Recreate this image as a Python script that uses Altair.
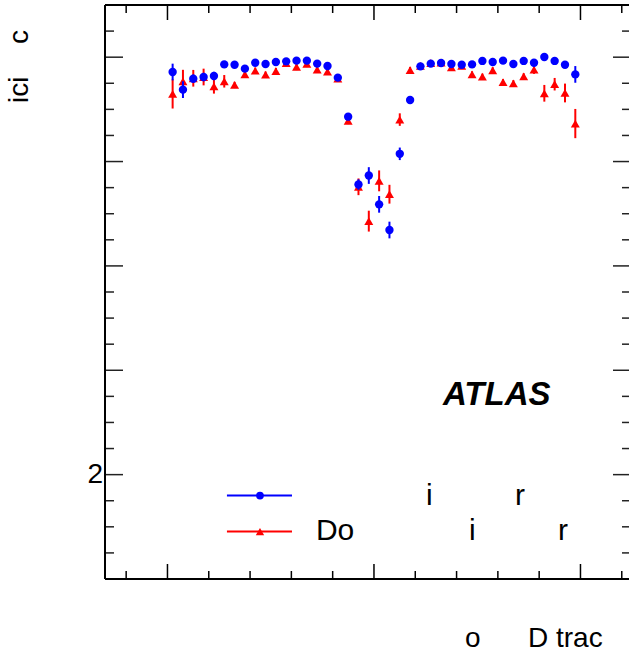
import altair as alt
import pandas as pd

# ---- data ----
eta = [round(-1.95 + 0.1 * i, 2) for i in range(40)]
blue_eff = [0.9858, 0.9689, 0.9794, 0.9810, 0.9820, 0.9931, 0.9928, 0.9890, 0.9947, 0.9935,
            0.9954, 0.9960, 0.9967, 0.9967, 0.9938, 0.9916, 0.9804, 0.9430, 0.8780, 0.8866,
            0.8590, 0.8344, 0.9074, 0.9590, 0.9912, 0.9938, 0.9944, 0.9935, 0.9928, 0.9931,
            0.9964, 0.9954, 0.9967, 0.9935, 0.9964, 0.9947, 1.0002, 0.9964, 0.9928, 0.9835]
blue_err = [0.008, 0.008, 0.004, 0.004, 0.004, 0.002, 0.002, 0.002, 0.002, 0.002,
            0.002, 0.002, 0.002, 0.002, 0.002, 0.002, 0.002, 0.003, 0.005, 0.008,
            0.008, 0.008, 0.006, 0.003, 0.002, 0.002, 0.002, 0.002, 0.002, 0.002,
            0.002, 0.002, 0.002, 0.002, 0.002, 0.002, 0.002, 0.003, 0.003, 0.008]
red_eff = [0.9648, 0.9769, 0.9798, 0.9810, 0.9721, 0.9769, 0.9734, 0.9835, 0.9870, 0.9833,
           0.9867, 0.9944, 0.9906, 0.9935, 0.9880, 0.9861, 0.9794, 0.9389, 0.8758, 0.8429,
           0.8815, 0.8687, 0.9402, 0.9877, 0.9916, 0.9944, 0.9947, 0.9902, 0.9916, 0.9835,
           0.9813, 0.9874, 0.9760, 0.9750, 0.9816, 0.9880, 0.9654, 0.9741, 0.9657, 0.9364]
red_err = [0.014, 0.011, 0.008, 0.008, 0.007, 0.006, 0.003, 0.003, 0.003, 0.003,
           0.003, 0.003, 0.003, 0.003, 0.003, 0.003, 0.003, 0.003, 0.008, 0.010,
           0.010, 0.009, 0.006, 0.003, 0.003, 0.003, 0.003, 0.003, 0.003, 0.003,
           0.003, 0.003, 0.003, 0.003, 0.003, 0.004, 0.008, 0.006, 0.009, 0.014]

x_major = [-2.0, 0.0, 2.0]
x_minor = [-2.4, -1.6, -1.2, -0.8, -0.4, 0.4, 0.8, 1.2, 1.6, 2.4]
y_major = [0.6, 0.7, 0.8, 0.9, 1.0]
y_minor = [0.525, 0.55, 0.575, 0.625, 0.65, 0.675, 0.725, 0.75, 0.775,
           0.825, 0.85, 0.875, 0.925, 0.95, 0.975, 1.025]
y_label_value = 0.6
y_label_text = "2"

legend_labels_row1 = ["i", "r"]
legend_labels_row2 = ["Do", "i", "r"]
y_title_parts = ["ici", "c"]
x_title_parts = ["o", "D trac"]
atlas_label = "ATLAS"

BLUE = "#0000ff"
RED = "#ff0000"
W, H = 524, 574
XD = [-2.605, 2.47]
YD = [0.5, 1.05]
FONT = "Liberation Sans"

xs = alt.Scale(domain=XD, nice=False, zero=False)
ys = alt.Scale(domain=YD, nice=False, zero=False)

blue = pd.DataFrame({"x": eta, "y": blue_eff, "lo": [v - e for v, e in zip(blue_eff, blue_err)],
                     "hi": [v + e for v, e in zip(blue_eff, blue_err)]})
red = pd.DataFrame({"x": eta, "y": red_eff, "lo": [v - e for v, e in zip(red_eff, red_err)],
                    "hi": [v + e for v, e in zip(red_eff, red_err)]})

X = lambda: alt.X("x:Q", scale=xs, axis=None)
Y = lambda: alt.Y("y:Q", scale=ys, axis=None)

# frame lines (left, top, bottom)
frame_df = pd.DataFrame({"k": [0]})
left_line = alt.Chart(frame_df).mark_rule(color="black", strokeWidth=2).encode(
    x=alt.value(0), y=alt.value(0), y2=alt.value(H))
top_line = alt.Chart(frame_df).mark_rule(color="black", strokeWidth=2).encode(
    x=alt.value(0), x2=alt.value(W), y=alt.value(0))
bot_line = alt.Chart(frame_df).mark_rule(color="black", strokeWidth=2).encode(
    x=alt.value(0), x2=alt.value(W), y=alt.value(H))

def xticks(vals, length):
    d = pd.DataFrame({"x": vals})
    b = alt.Chart(d).mark_rule(color="black", strokeWidth=1.5).encode(
        x=alt.X("x:Q", scale=xs, axis=None), y=alt.value(H - length), y2=alt.value(H))
    t = alt.Chart(d).mark_rule(color="black", strokeWidth=1.5).encode(
        x=alt.X("x:Q", scale=xs, axis=None), y=alt.value(0), y2=alt.value(length))
    return [b, t]

def yticks(vals, length, rlen):
    d = pd.DataFrame({"y": vals})
    l = alt.Chart(d).mark_rule(color="#222222", strokeWidth=1.5).encode(
        y=alt.Y("y:Q", scale=ys, axis=None), x=alt.value(0), x2=alt.value(length))
    r = alt.Chart(d).mark_rule(color="#222222", strokeWidth=1.5).encode(
        y=alt.Y("y:Q", scale=ys, axis=None), x=alt.value(W - rlen), x2=alt.value(W))
    return [l, r]

# the single visible y tick label
ylab = alt.Chart(pd.DataFrame({"y": [y_label_value], "t": [y_label_text]})).mark_text(
    align="right", baseline="middle", fontSize=28, font=FONT, color="black").encode(
    y=Y(), x=alt.value(-2), text="t:N")

def series(df, color, shape, size):
    err = alt.Chart(df).mark_rule(color=color, strokeWidth=2).encode(
        x=X(), y=alt.Y("lo:Q", scale=ys, axis=None), y2="hi:Q")
    pts = alt.Chart(df).mark_point(shape=shape, filled=True, color=color, size=size, opacity=1).encode(
        x=X(), y=Y())
    return [err, pts]

# legend, placed in data coordinates
leg_lines = pd.DataFrame({"x": [-1.424, -1.424], "x2": [-0.794, -0.794], "y": [0.58, 0.5455],
                          "c": [BLUE, RED]})
leg_line_mark = alt.Chart(leg_lines).mark_rule(strokeWidth=2).encode(
    x=X(), x2="x2:Q", y=Y(), color=alt.Color("c:N", scale=None))
leg_b = alt.Chart(pd.DataFrame({"x": [-1.104], "y": [0.58]})).mark_point(
    shape="circle", filled=True, color=BLUE, size=60, opacity=1).encode(x=X(), y=Y())
leg_r = alt.Chart(pd.DataFrame({"x": [-1.104], "y": [0.5455]})).mark_point(
    shape="triangle-up", filled=True, color=RED, size=70, opacity=1).encode(x=X(), y=Y())

leg_text = pd.DataFrame({
    "t": legend_labels_row1 + legend_labels_row2,
    "x": [0.504, 1.366, -0.562, 0.920, 1.782],
    "y": [0.5709, 0.5709, 0.5374, 0.5374, 0.5374]})
leg_text_mark = alt.Chart(leg_text).mark_text(
    align="left", baseline="alphabetic", fontSize=30, font=FONT, color="black").encode(
    x=X(), y=Y(), text="t:N")

atlas = alt.Chart(pd.DataFrame({"t": [atlas_label], "x": [0.668], "y": [0.6667]})).mark_text(
    align="left", baseline="alphabetic", fontSize=33, font=FONT, fontWeight="bold",
    fontStyle="italic", color="black").encode(x=X(), y=Y(), text="t:N")

# axis titles (outside the plot area)
ytitle = alt.Chart(pd.DataFrame({"t": y_title_parts, "py": [98, 39]})).mark_text(
    align="left", baseline="alphabetic", angle=270, fontSize=28, font=FONT, color="black").encode(
    x=alt.value(-77), y=alt.Y("py:Q", scale=None, axis=None), text="t:N")
xtitle = alt.Chart(pd.DataFrame({"t": x_title_parts, "px": [360, 423]})).mark_text(
    align="left", baseline="alphabetic", fontSize=28, font=FONT, color="black").encode(
    x=alt.X("px:Q", scale=None, axis=None), y=alt.value(642), text="t:N")

layers = [ylab]
layers += xticks(x_major, 15) + xticks(x_minor, 8)
layers += yticks(y_major, 18, 16) + yticks(y_minor, 9, 7)
layers += [left_line, top_line, bot_line]
layers += series(red, RED, "triangle-up", 80) + series(blue, BLUE, "circle", 70)
layers += [leg_line_mark, leg_b, leg_r, leg_text_mark, atlas, ytitle, xtitle]

chart = alt.layer(*layers).properties(
    width=W, height=H,
    autosize=alt.AutoSizeParams(type="none"),
    padding={"left": 105, "top": 5, "right": 0, "bottom": 76},
).configure_view(stroke=None).configure(background="white")

chart.save("out.html", embed_options={"renderer": "svg", "actions": False})
